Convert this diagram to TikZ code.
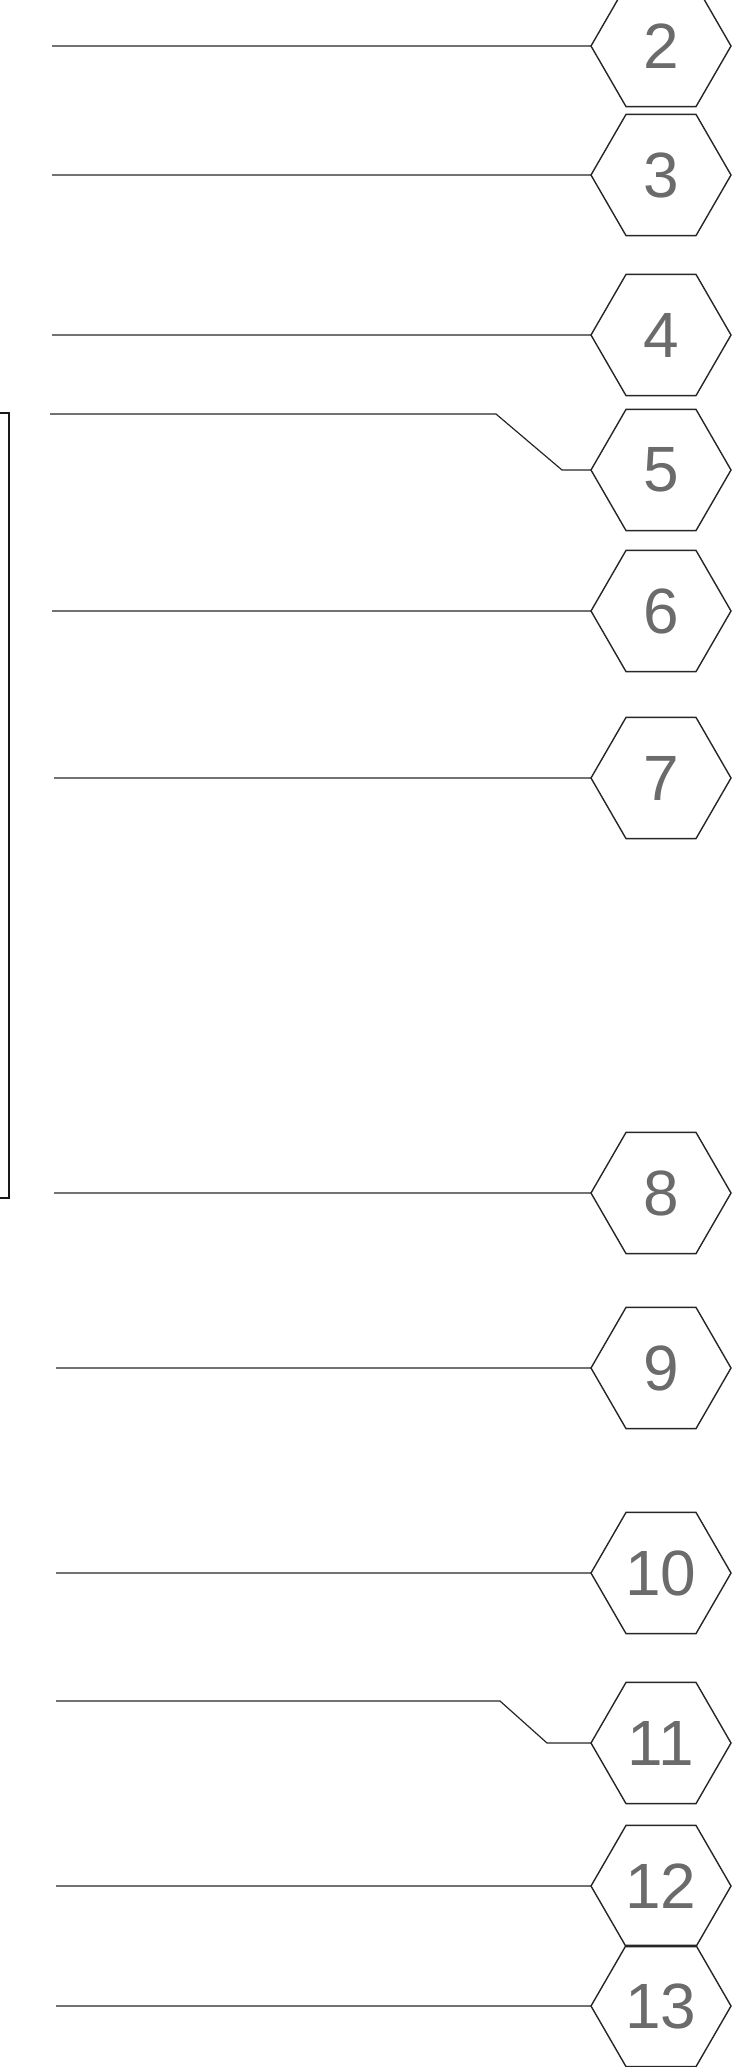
\documentclass[tikz,border=0pt]{standalone}
\usepackage{fontspec}
\setmainfont{Liberation Sans}
\usetikzlibrary{shapes.geometric}
\tikzset{
  hexnum/.style={regular polygon, regular polygon sides=6, minimum size=140pt,
    inner sep=0pt, outer sep=0pt, draw=black!85, line width=1.4pt,
    text=black!58, font=\fontsize{64}{64}\selectfont},
  leader/.style={draw=black!85, line width=1.2pt},
  bracketline/.style={draw=black!90, line width=1.4pt}
}
\begin{document}
\begin{tikzpicture}[x=1pt,y=-1pt]
\useasboundingbox (0,0) rectangle (755,2067);
% hexagon labels
\node[hexnum] (h2)  at (661,46)   {2};
\node[hexnum] (h3)  at (661,175)  {3};
\node[hexnum] (h4)  at (661,335)  {4};
\node[hexnum] (h5)  at (661,470)  {5};
\node[hexnum] (h6)  at (661,611)  {6};
\node[hexnum] (h7)  at (661,778)  {7};
\node[hexnum] (h8)  at (661,1193) {8};
\node[hexnum] (h9)  at (661,1368) {9};
\node[hexnum] (h10) at (661,1573) {10};
\node[hexnum] (h11) at (661,1743) {11};
\node[hexnum] (h12) at (661,1886) {12};
\node[hexnum] (h13) at (661,2006) {13};
% free ends of the leaders
\coordinate (s2)  at (52,46);
\coordinate (s3)  at (52,175);
\coordinate (s4)  at (52,335);
\coordinate (s5)  at (50,414);
\coordinate (k5a) at (496,414);
\coordinate (k5b) at (562,470);
\coordinate (s6)  at (52,611);
\coordinate (s7)  at (54,778);
\coordinate (s8)  at (54,1193);
\coordinate (s9)  at (56,1368);
\coordinate (s10) at (56,1573);
\coordinate (s11) at (56,1701);
\coordinate (k11a) at (500,1701);
\coordinate (k11b) at (547,1743);
\coordinate (s12) at (56,1886);
\coordinate (s13) at (56,2006);
% leaders
\draw[leader] (s2) -- (h2.west);
\draw[leader] (s3) -- (h3.west);
\draw[leader] (s4) -- (h4.west);
\draw[leader] (s5) -- (k5a) -- (k5b) -- (h5.west);
\draw[leader] (s6) -- (h6.west);
\draw[leader] (s7) -- (h7.west);
\draw[leader] (s8) -- (h8.west);
\draw[leader] (s9) -- (h9.west);
\draw[leader] (s10) -- (h10.west);
\draw[leader] (s11) -- (k11a) -- (k11b) -- (h11.west);
\draw[leader] (s12) -- (h12.west);
\draw[leader] (s13) -- (h13.west);
% bracket at the left
\coordinate (bt) at (0,413);
\coordinate (bb) at (0,1198);
\draw[bracketline] (bt) -- ++(9,0) |- (bb);
\end{tikzpicture}
\end{document}
